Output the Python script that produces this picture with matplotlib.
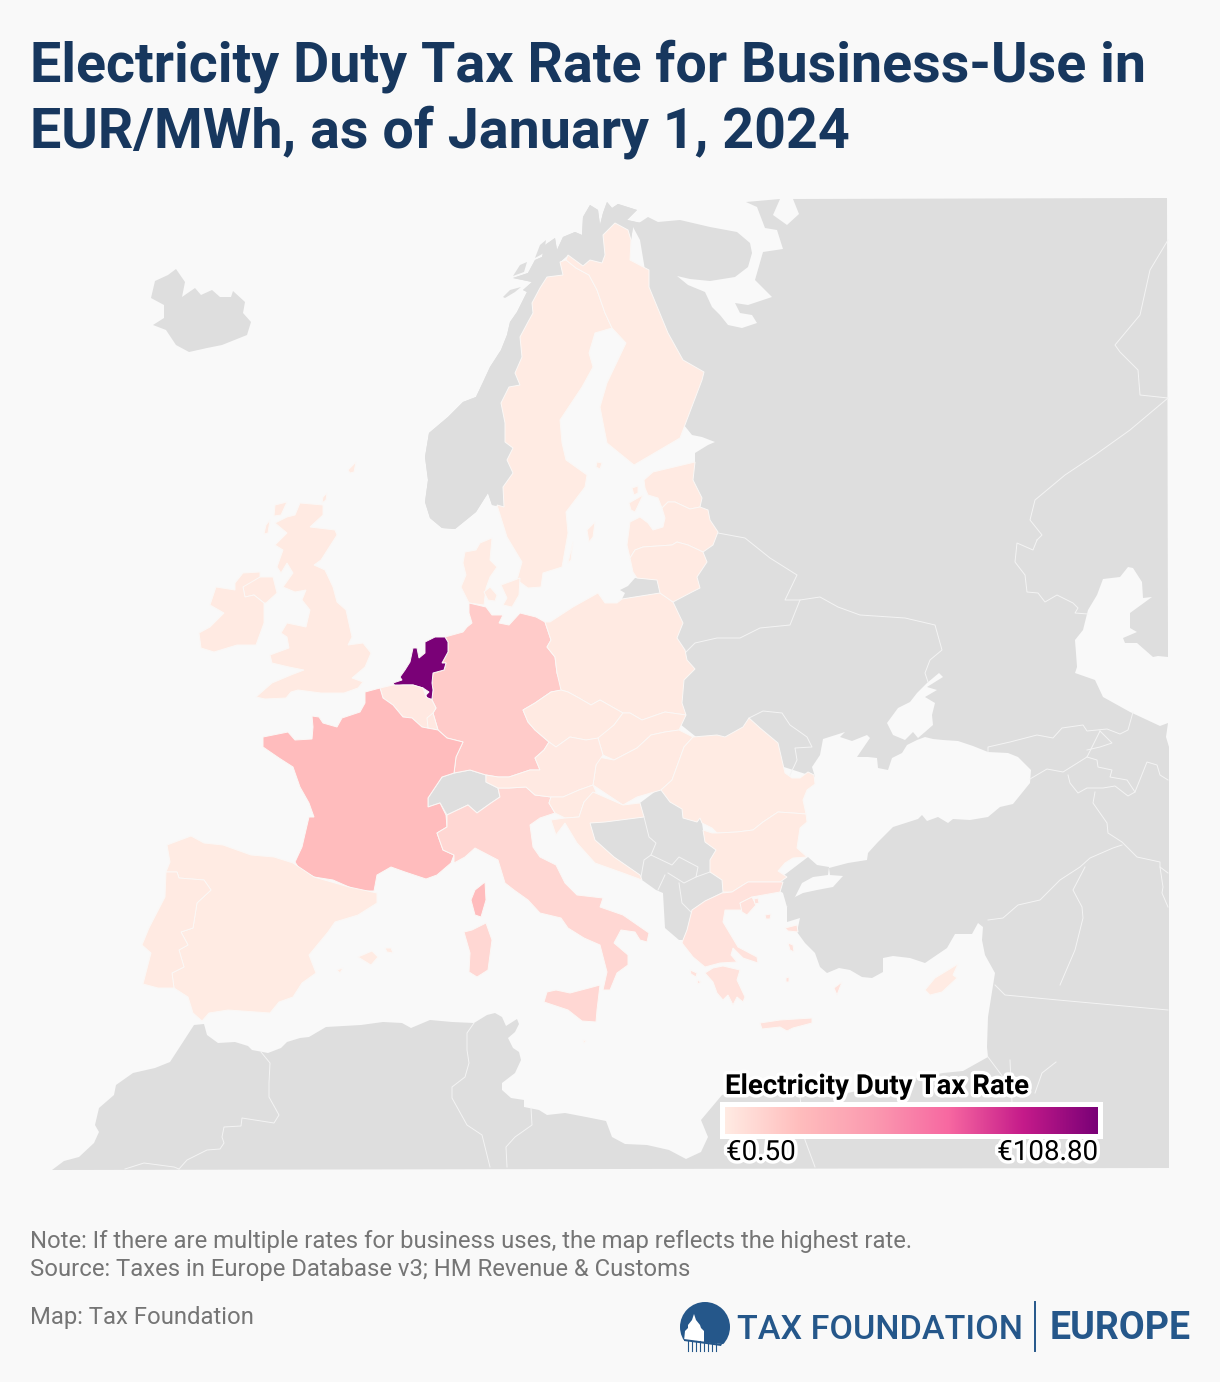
import numpy as np
import matplotlib
matplotlib.use("Agg")
import matplotlib.pyplot as plt
from matplotlib.patches import Polygon, Circle, Rectangle
from matplotlib.colors import LinearSegmentedColormap, Normalize
import matplotlib.patheffects as pe

TITLE = ["Electricity Duty Tax Rate for Business-Use in", "EUR/MWh, as of January 1, 2024"]
NOTE = "Note: If there are multiple rates for business uses, the map reflects the highest rate."
SOURCE = "Source: Taxes in Europe Database v3; HM Revenue & Customs"
CREDIT = "Map: Tax Foundation"
LEGEND_TITLE = "Electricity Duty Tax Rate"
RATE_MIN = 0.50
RATE_MAX = 108.80

# Duty rates, EUR/MWh
RATES = {"Netherlands": 108.8, "France": 22.5, "Germany": 15.4, "Italy": 10.0, "Greece": 5.0,
         "Sweden": 0.6, "Finland": 0.6, "Norway": None, "Denmark": 0.6, "UK": 1.0, "Ireland": 1.0,
         "Spain": 0.6, "Portugal": 1.0, "Belgium": 1.9, "Poland": 1.2, "Czechia": 1.2,
         "Slovakia": 1.0, "Hungary": 1.0, "Austria": 1.5, "Slovenia": 1.0, "Croatia": 1.0,
         "Romania": 0.6, "Bulgaria": 1.0, "Estonia": 1.0, "Latvia": 1.0, "Lithuania": 1.0, "Cyprus": 0.5}

# Country outlines on the map's own grid
EURASIA_AFRICA = [(633,227),(648,217),(658,222),(680,220),(710,227),(737,232),(750,243),(752,253),(748,267),(735,277),
 (710,281),(690,279),(677,276),(688,285),(705,292),(712,307),(720,315),(728,325),(742,328),(757,323),(752,315),(740,313),
 (735,303),(748,305),(772,297),(755,280),(763,252),(783,249),(777,230),(765,228),(757,207),(746,202),(780,199),(773,215),
 (787,225),(799,214),(793,199),(1167,198),(1168,657),(1158,656),(1153,657),(1137,643),(1125,643),(1123,638),(1137,632),
 (1130,628),(1130,613),(1152,597),(1143,598),(1142,582),(1133,568),(1128,567),(1120,577),(1103,579),(1097,595),(1088,610),
 (1083,630),(1075,640),(1077,667),(1075,673),(1095,680),(1103,697),(1130,712),(1160,726),(1168,723),(1166,737),(1169,747),
 (1169,1168),(52,1170),(64,1161),(79,1157),(94,1143),(99,1132),(95,1125),(99,1108),(114,1095),(116,1085),(133,1073),
 (155,1068),(170,1062),(183,1042),(194,1025),(204,1024),(207,1035),(218,1043),(235,1042),(248,1046),(252,1050),(268,1053),
 (281,1048),(287,1042),(300,1038),(309,1037),(326,1027),(361,1025),(383,1022),(402,1023),(411,1028),(430,1020),(452,1022),
 (474,1023),(487,1015),(495,1013),(502,1017),(506,1026),(517,1019),(519,1024),(515,1032),(508,1038),(513,1048),(519,1052),
 (521,1060),(515,1073),(502,1083),(502,1090),(511,1098),(524,1100),(524,1107),(539,1110),(547,1115),(565,1113),(586,1117),
 (606,1121),(612,1137),(625,1144),(647,1145),(669,1150),(686,1159),(701,1152),(708,1137),(701,1120),(722,1095),(745,1088),
 (790,1095),(830,1097),(870,1088),(905,1080),(943,1073),(963,1071),(988,1057),(987,1047),(988,1017),(995,973),(985,955),
 (982,940),(983,927),(978,923),(972,934),(955,934),(947,948),(925,963),(910,958),(893,956),(883,958),(883,972),(872,978),
 (862,977),(850,970),(839,968),(827,973),(820,967),(815,953),(805,943),(797,932),(800,918),(787,922),(787,907),(793,898),
 (803,893),(817,890),(833,887),(843,876),(830,875),(829,868),(848,863),(867,860),(868,853),(878,842),(893,827),(918,819),
 (922,815),(927,821),(938,817),(948,823),(953,819),(970,820),(988,817),(1000,807),(1013,804),(1030,783),(1031,770),
 (1018,757),(1008,753),(988,752),(973,746),(958,741),(943,740),(933,739),(925,737),(917,740),(907,745),(902,753),(892,758),
 (888,770),(878,768),(877,758),(868,757),(857,757),(870,738),(867,735),(852,741),(840,737),(845,732),(823,739),(820,755),
 (812,767),(815,777),(700,740),(650,700),(660,620),(680,540),(693,470),(695,462),(695,453),(708,445),(715,442),(702,437),
 (692,435),(680,420),(650,300),(640,240)]
AZOV = [(943,677),(939,673),(927,683),(917,693),(910,702),(898,708),(887,723),(893,735),(905,740),(913,732),(918,738),
 (925,732),(933,725),(932,715),(935,703),(925,697),(937,690),(927,687)]
THRACE = [(787,873),(808,857),(817,865),(829,867),(828,875),(813,877),(802,883),(795,897),(787,907),(783,893),(770,885)]
ICELAND = [(151,298),(155,281),(168,275),(176,269),(185,282),(182,297),(195,288),(201,295),(212,290),(220,297),(231,297),
 (233,291),(245,302),(243,313),(251,322),(247,335),(222,345),(207,348),(189,352),(176,345),(166,330),(153,325),(164,318),(164,305)]
NORWAY = [(442,528),(455,529),(476,512),(488,493),(492,505),(504,507),(503,487),(513,473),(507,460),(513,448),(505,442),
 (505,423),(501,403),(509,387),(520,385),(515,373),(522,357),(520,337),(528,322),(533,313),(532,303),(540,288),(547,277),
 (563,275),(560,262),(568,255),(583,266),(590,260),(602,263),(605,255),(603,235),(615,223),(628,230),(631,240),(633,227),
 (641,223),(627,220),(637,210),(618,204),(612,208),(607,202),(603,213),(600,225),(598,210),(590,205),(583,217),(582,235),
 (575,232),(563,237),(557,250),(555,238),(545,245),(542,257),(535,260),(528,273),(513,278),(532,282),(523,290),(527,292),
 (517,312),(510,322),(507,335),(503,345),(501,350),(490,367),(484,380),(476,397),(463,402),(448,417),(429,433),(425,457),
 (428,480),(425,502),(430,518)]
LOFOTEN = [(503,297),(510,290),(521,287),(515,292),(505,298)]
VESTERALEN = [(513,276),(520,265),(527,262),(524,272)]
SENJA = [(535,258),(540,245),(546,240),(544,253)]
SWEDEN = [(566,260),(560,262),(563,275),(547,277),(540,288),(532,303),(533,313),(528,322),(520,337),(522,357),(515,373),
 (520,385),(509,387),(501,403),(505,423),(505,442),(513,448),(507,460),(513,473),(503,487),(504,507),(497,505),(507,537),
 (522,562),(517,580),(528,588),(541,587),(543,573),(562,567),(568,533),(566,512),(585,487),(587,475),(566,460),(562,443),
 (560,420),(582,387),(593,367),(589,353),(595,333),(612,328),(605,313),(597,290),(589,275),(576,268)]
FINLAND = [(612,328),(626,343),(607,383),(600,407),(607,443),(634,465),(680,438),(702,380),(704,372),(683,360),(668,333),
 (649,287),(649,270),(630,260),(631,240),(628,230),(615,223),(603,235),(605,255),(602,263),(590,260),(583,266),(568,255),
 (566,260),(576,268),(589,275),(597,290),(605,313)]
GOTLAND = [(587,530),(595,522),(593,537),(589,542)]
OLAND = [(568,563),(573,542),(571,560)]
ALAND = [(597,462),(602,463),(600,469),(596,467)]
DENMARK = [(492,538),(480,543),(476,550),(465,552),(463,563),(466,575),(461,587),(469,603),(484,605),(486,588),(490,577),
 (497,567),(490,560)]
FUNEN = [(484,592),(490,587),(497,595),(495,601),(488,600)]
ZEALAND = [(501,585),(512,581),(520,578),(519,595),(512,607),(503,605),(507,598)]
FAROE = [(348,470),(356,462),(354,472),(350,473)]
GERMANY = [(469,603),(486,607),(492,615),(503,615),(499,623),(509,625),(520,613),(536,617),(545,622),(551,640),(547,647),
 (555,657),(557,673),(562,687),(563,690),(551,692),(535,703),(523,710),(528,722),(535,730),(549,742),(544,750),(535,758),
 (540,770),(530,770),(509,777),(498,777),(486,775),(470,770),(454,773),(456,757),(463,742),(447,738),(438,730),(433,713),
 (436,708),(432,700),(433,690),(432,683),(433,673),(444,670),(446,663),(442,663),(448,652),(448,642),(445,637),(463,632),(467,627),(472,623),(469,613)]
NETHERLANDS = [(425,642),(435,637),(445,637),(448,642),(448,652),(442,663),(446,663),(444,670),(433,673),(432,683),(433,690),
 (432,699),(427,699),(426,695),(429,692),(423,688),(413,685),(403,685),(395,686),(393,683),(402,680),(400,677),(405,670),
 (410,662),(413,648),(417,648),(419,658),(425,653),(425,648)]
BELGIUM = [(380,688),(393,685),(413,685),(423,688),(426,697),(432,700),(436,708),(433,713),(438,730),(428,728),(422,727),
 (412,718),(403,717),(393,705),(383,698)]
LUX_BORDER = [(433,713),(427,718),(428,728)]
FRANCE = [(365,692),(380,688),(383,698),(393,705),(403,717),(412,718),(422,727),(438,730),(447,738),(463,742),(456,757),(454,773),
 (442,777),(428,798),(428,807),(440,803),(446,815),(447,827),(437,833),(443,850),(454,855),(451,863),(437,875),(426,879),
 (405,872),(391,867),(377,875),(374,891),(358,891),(349,887),(333,880),(314,877),(300,870),(295,862),(302,847),(309,817),
 (314,817),(309,803),(300,787),(293,767),(279,758),(263,747),(263,737),(288,732),(295,740),(312,739),(313,727),(312,716),
 (319,717),(323,723),(337,727),(342,718),(360,712),(365,703)]
CORSICA = [(485,882),(486,900),(481,917),(475,915),(471,900),(475,890)]
SWITZERLAND = [(454,773),(470,770),(486,775),(486,782),(498,788),(500,797),(491,803),(477,813),(468,805),(447,815),(440,803),
 (428,807),(428,798),(442,777)]
ITALY = [(447,815),(468,805),(477,813),(491,803),(500,797),(498,788),(509,788),(526,787),(535,795),(551,797),(549,803),(555,813),
 (540,818),(530,825),(533,847),(540,857),(556,865),(565,883),(577,895),(603,898),(600,907),(623,915),(649,933),(647,942),
 (640,940),(635,932),(621,930),(614,943),(628,955),(628,965),(617,973),(610,990),(603,990),(607,972),(600,945),(584,938),
 (568,928),(561,918),(540,913),(528,900),(514,890),(505,883),(498,860),(475,848),(465,857),(454,863),(454,855),(443,850),
 (437,833),(447,827)]
SICILY = [(600,985),(597,1010),(596,1022),(582,1021),(568,1010),(544,1002),(547,992),(556,990),(570,993),(589,988)]
SARDINIA = [(472,930),(486,923),(492,940),(488,970),(477,977),(469,972),(470,953),(464,932)]
SPAIN = [(167,845),(191,836),(204,843),(223,845),(251,855),(274,857),(293,863),(314,877),(349,887),(377,893),(377,903),(358,915),
 (335,922),(328,932),(309,955),(316,973),(302,983),(293,997),(279,1002),(270,1013),(228,1010),(209,1013),(202,1021),(193,1013),
 (188,997),(174,988),(172,973),(184,967),(179,950),(188,945),(181,932),(193,928),(197,903),(211,890),(204,880),(179,878),
 (177,872),(166,872),(170,862)]
PORTUGAL = [(166,872),(177,872),(179,878),(204,880),(211,890),(197,903),(193,928),(181,932),(188,945),(179,950),(184,967),(172,973),
 (174,988),(158,988),(143,984),(151,953),(142,945),(149,928),(165,897)]
MALLORCA = [(358,957),(372,951),(378,957),(371,965)]
MENORCA = [(385,948),(391,948),(393,953),(387,952)]
IBIZA = [(337,970),(343,968),(340,973)]
UK = [(300,503),(323,505),(323,515),(310,527),(335,530),(337,535),(321,560),(314,565),(325,570),(333,587),(337,602),(346,610),
 (352,637),(348,645),(363,643),(371,653),(365,667),(352,678),(363,682),(358,688),(344,693),(321,693),(298,690),(291,692),
 (286,698),(265,699),(256,697),(272,683),(291,675),(304,670),(289,667),(272,663),(270,655),(289,648),(287,637),(281,633),
 (287,623),(306,627),(310,610),(302,600),(306,590),(295,592),(283,587),(293,573),(287,563),(281,573),(277,567),(283,550),
 (275,545),(287,533),(275,523),(287,517),(295,515)]
HEBRIDES = [(275,505),(287,502),(281,515),(274,516)]
LEWIS2 = [(266,525),(270,520),(268,533),(264,534)]
SHETLAND = [(323,497),(327,493),(326,500),(322,503)]
IRELAND = [(199,633),(210,627),(224,613),(210,605),(216,587),(235,590),(235,583),(243,573),(260,572),(260,577),(243,587),(245,597),
 (254,595),(264,603),(264,623),(256,645),(237,645),(214,652),(201,648)]
N_IRELAND = [(243,587),(250,578),(260,577),(273,577),(277,593),(266,603),(264,603),(254,595),(245,597)]
POLAND = [(550,622),(573,607),(598,593),(605,603),(617,603),(622,599),(660,593),(673,602),(683,623),(677,638),(685,650),(687,660),
 (695,669),(684,680),(682,703),(686,715),(665,712),(642,720),(630,713),(623,713),(600,700),(591,705),(579,698),(568,692),(561,690),
 (557,673),(555,657),(547,647),(551,640),(545,622)]
CZECHIA = [(561,690),(568,692),(579,698),(591,705),(600,700),(623,713),(614,725),(600,738),(586,740),(570,737),(556,747),(549,742),
 (535,730),(528,722),(523,710),(535,703),(551,692)]
SLOVAKIA = [(623,713),(630,713),(642,720),(665,712),(686,715),(679,730),(665,732),(651,735),(637,748),(614,760),(603,755),(598,738),(614,725)]
HUNGARY = [(598,757),(614,760),(637,748),(651,735),(665,732),(679,730),(693,737),(684,747),(672,780),(661,790),(637,797),(623,805),
 (593,785),(596,765)]
AUSTRIA = [(549,742),(556,747),(570,737),(586,740),(598,738),(603,755),(596,765),(593,785),(579,790),(563,797),(551,797),(535,795),
 (526,787),(509,788),(498,788),(486,782),(486,775),(498,777),(509,777),(530,770),(540,770),(535,758),(544,750)]
SLOVENIA = [(551,797),(563,797),(579,790),(593,785),(596,792),(584,802),(579,817),(565,818),(555,813),(549,803)]
CROATIA = [(593,792),(623,805),(640,803),(644,817),(605,822),(590,823),(595,840),(614,857),(640,875),(642,880),(623,873),(595,863),
 (577,843),(565,823),(556,835),(551,820),(565,818),(579,817),(584,802)]
BALKANS = [(640,803),(656,791),(661,790),(670,802),(682,809),(683,818),(697,822),(700,818),(702,823),(703,830),(705,842),(716,850),
 (710,860),(710,872),(722,880),(723,892),(705,901),(692,910),(687,930),(683,940),(679,940),(665,928),(663,893),(656,890),(642,880),
 (640,875),(614,857),(595,840),(590,823),(605,822),(644,817)]
ROMANIA = [(693,737),(717,735),(725,737),(743,727),(749,718),(760,728),(778,743),(785,773),(792,778),(800,778),(808,772),(814,775),
 (815,784),(807,790),(803,800),(806,814),(793,813),(778,812),(763,822),(753,830),(737,832),(717,833),(712,828),(702,823),(700,818),
 (697,822),(683,818),(682,809),(670,802),(661,790),(672,780),(684,747)]
BULGARIA = [(806,814),(807,822),(800,828),(797,848),(807,857),(793,858),(785,863),(778,871),(787,877),(780,882),(748,882),(743,885),
 (732,892),(723,892),(722,880),(710,872),(710,860),(716,850),(705,842),(703,830),(712,833),(717,833),(737,832),(753,830),(763,822),
 (778,812),(793,813)]
GREECE = [(722,893),(732,892),(743,885),(748,882),(783,882),(780,892),(752,897),(740,903),(743,910),(725,910),(723,922),(732,937),
 (738,947),(757,957),(758,963),(743,958),(733,948),(731,955),(737,962),(720,963),(705,967),(693,957),(682,943),(683,940),(687,930),
 (692,910),(705,901)]
CHALKIDIKI = [(740,903),(752,897),(756,905),(747,915),(742,912)]
PELOPONNESE = [(705,973),(713,968),(723,966),(740,970),(737,980),(745,997),(743,1002),(737,997),(733,1005),(728,995),(723,1000),
 (717,993),(713,982)]
CRETE = [(760,1023),(780,1020),(812,1018),(812,1023),(793,1028),(787,1031),(780,1027),(762,1029)]
RHODES = [(842,982),(837,995),(834,988)]
LESBOS = [(785,928),(797,925),(798,932),(788,931)]
CHIOS = [(788,943),(793,945),(794,952),(790,950)]
THASOS = [(754,899),(758,898),(759,903),(755,904)]
LEMNOS = [(765,915),(771,914),(770,919),(766,919)]
NAXOS = [(786,978),(789,977),(789,982),(786,982)]
CORFU = [(690,970),(697,973),(696,977),(691,974)]
ZAKYNTHOS = [(697,980),(701,982),(698,984)]
CYPRUS = [(958,964),(953,975),(957,978),(942,992),(930,995),(925,990),(935,978)]
ESTONIA = [(644,480),(653,472),(695,462),(693,480),(702,498),(700,507),(690,509),(675,502),(668,502),(662,508),(658,498),(648,495),(645,488)]
SAAREMAA = [(629,503),(643,495),(635,512),(631,510)]
HIIUMAA = [(632,488),(638,486),(638,493),(634,495)]
LATVIA = [(662,508),(668,502),(675,502),(690,509),(700,507),(708,510),(710,520),(718,532),(713,545),(703,552),(688,545),(677,542),
 (672,545),(643,547),(635,550),(630,558),(627,545),(630,522),(640,517),(648,523),(653,530),(663,527),(665,518)]
LITHUANIA = [(630,558),(635,550),(643,547),(672,545),(677,542),(688,545),(703,552),(707,562),(697,577),(700,588),(692,592),(673,602),
 (660,593),(657,580),(637,578),(633,572)]
KALININGRAD = [(620,590),(628,586),(635,578),(657,580),(660,593),(622,599),(625,593)]
MALTA = [(583,1040),(586,1041),(584,1043)]

# Borders between the non-EU countries
BORDERS = [
 [(644,817),(649,837),(656,843),(651,855),(644,860),(641,877)],
 [(651,855),(672,865),(679,857),(698,867),(696,877),(684,883),(668,873)],
 [(665,875),(658,890)], [(679,883),(682,903),(691,912)], [(696,877),(710,872)],
 [(685,653),(695,643),(717,638),(740,638),(760,628),(790,625),(800,600),(820,597),(838,607),(860,615),(905,618),(935,625),(942,650),(930,660),(925,673),(928,682)],
 [(718,533),(745,538),(770,558),(797,575),(785,600),(800,600)],
 [(749,718),(763,711),(782,713),(790,725),(800,732),(807,737),(812,747),(795,748),(797,760),(790,775)],
 [(988,752),(988,747),(1010,742),(1037,735),(1053,738),(1062,728),(1083,725),(1087,731),(1107,729),(1120,734),(1128,730),(1133,712)],
 [(1030,779),(1047,769),(1063,772),(1087,757),(1100,731)],
 [(1087,750),(1100,747),(1112,743),(1100,731)],
 [(1087,757),(1097,760),(1098,767),(1112,770),(1110,777),(1127,780),(1135,792),(1128,796),(1115,786),(1103,788),(1087,788),(1078,793),(1070,783),(1068,775)],
 [(1095,792),(1093,803),(1107,823),(1108,833),(1122,842),(1137,857),(1160,862),(1160,867),(1168,873)],
 [(1135,792),(1147,762),(1157,765),(1160,775),(1168,780)],
 [(1122,845),(1113,848),(1090,858),(1080,867),(1060,880),(1040,900),(1018,905),(1003,918),(988,920)],
 [(1085,867),(1073,890),(1082,907),(1083,918),(1075,950),(1060,985)],
 [(1160,867),(1163,887),(1162,893),(1168,907)],
 [(995,985),(1005,995),(1058,1000),(1168,1010)],
 [(988,1057),(1003,1077)], [(1056,1062),(1042,1073),(1035,1093)], [(1010,1060),(1012,1103)],
 [(800,1097),(805,1140),(815,1167)],
 [(1037,540),(1033,550),(1017,543),(1015,562),(1025,575),(1027,592),(1038,593),(1045,602),(1057,595),(1073,603),(1078,608),(1075,613),(1088,614)],
 [(1168,398),(1130,430),(1095,455),(1065,475),(1035,500),(1030,520),(1042,535),(1037,540)],
 [(1168,240),(1150,270),(1140,315),(1115,345),(1120,352),(1138,370),(1140,395),(1168,398)],
 [(261,1052),(270,1063),(269,1083),(269,1097),(279,1115),(274,1123),(242,1118),(241,1126),(224,1127),(222,1137),(224,1143),(220,1149),(207,1150),(187,1160),(179,1169)],
 [(125,1169),(144,1163),(174,1167),(179,1169)],
 [(474,1023),(467,1033),(467,1050),(469,1063),(465,1077),(452,1087),(452,1098),(467,1125),(482,1135),(490,1167)],
 [(531,1108),(532,1125),(515,1137),(506,1147),(507,1167)],
]

GRAY_SHAPES = [EURASIA_AFRICA, THRACE, ICELAND, NORWAY, LOFOTEN, VESTERALEN, SENJA, SWITZERLAND, BALKANS, KALININGRAD]
COUNTRY_SHAPES = {
 "Sweden": [SWEDEN, GOTLAND, OLAND], "Finland": [FINLAND, ALAND], "Denmark": [DENMARK, FUNEN, ZEALAND, FAROE],
 "Germany": [GERMANY], "Netherlands": [NETHERLANDS], "Belgium": [BELGIUM], "France": [FRANCE, CORSICA],
 "Italy": [ITALY, SICILY, SARDINIA], "Spain": [SPAIN, MALLORCA, MENORCA, IBIZA], "Portugal": [PORTUGAL],
 "UK": [UK, HEBRIDES, LEWIS2, SHETLAND, N_IRELAND], "Ireland": [IRELAND], "Poland": [POLAND], "Czechia": [CZECHIA],
 "Slovakia": [SLOVAKIA], "Hungary": [HUNGARY], "Austria": [AUSTRIA], "Slovenia": [SLOVENIA], "Croatia": [CROATIA],
 "Romania": [ROMANIA], "Bulgaria": [BULGARIA],
 "Greece": [GREECE, CHALKIDIKI, PELOPONNESE, CRETE, RHODES, LESBOS, CHIOS, THASOS, LEMNOS, NAXOS, CORFU, ZAKYNTHOS],
 "Estonia": [ESTONIA, SAAREMAA, HIIUMAA], "Latvia": [LATVIA], "Lithuania": [LITHUANIA], "Cyprus": [CYPRUS, MALTA],
}

BG = "#f9f9f9"
GRAY = "#dedede"
NAVY = "#17375e"
LOGO = "#25578a"
cmap = LinearSegmentedColormap.from_list("duty", ["#ffebe3", "#ffbdbd", "#fb9ab0", "#f768a1", "#c51b8a", "#7a0177"])
norm = Normalize(RATE_MIN, RATE_MAX)

plt.rcParams["font.family"] = ["Roboto", "DejaVu Sans"]
fig = plt.figure(figsize=(12.2, 13.82), dpi=100, facecolor=BG)
ax = fig.add_axes([0, 0, 1, 1])
ax.set_xlim(0, 1220)
ax.set_ylim(1382, 0)
ax.axis("off")

for shape in GRAY_SHAPES:
    ax.add_patch(Polygon(shape, closed=True, fc=GRAY, ec="none", zorder=1))
ax.add_patch(Polygon(AZOV, closed=True, fc=BG, ec="none", zorder=1.5))
for line in BORDERS:
    xs, ys = zip(*line)
    ax.plot(xs, ys, color="#f4f4f4", lw=0.7, zorder=2, solid_joinstyle="round")
ax.add_patch(Polygon(NORWAY, closed=True, fc=GRAY, ec="none", zorder=2))
ax.add_patch(Polygon(SWITZERLAND, closed=True, fc=GRAY, ec="#f4f4f4", lw=0.8, zorder=2))
for name, shapes in COUNTRY_SHAPES.items():
    colour = cmap(norm(RATES[name]))
    for shape in shapes:
        ax.add_patch(Polygon(shape, closed=True, fc=colour, ec="#fbf8f6", lw=0.7, zorder=3))
xs, ys = zip(*LUX_BORDER)
ax.plot(xs, ys, color="#fbf8f6", lw=0.7, zorder=4)

# Titles and notes
for text, y in zip(TITLE, [81.5, 147.5]):
    ax.text(30, y, text, fontsize=40.1, fontweight="bold", color=NAVY, va="baseline", ha="left")
ax.text(30, 1248, NOTE, fontsize=17.2, color="#757575", va="baseline")
ax.text(30, 1276, SOURCE, fontsize=17.2, color="#757575", va="baseline")
ax.text(30, 1324, CREDIT, fontsize=17.2, color="#757575", va="baseline")

# Legend
halo = [pe.withStroke(linewidth=5, foreground="white")]
ax.text(725, 1094, LEGEND_TITLE, fontsize=19.9, fontweight="bold", color="black", va="baseline",
        path_effects=halo, zorder=6)
ax.add_patch(Rectangle((720, 1102), 383, 37, fc="white", ec="none", zorder=5))
lax = fig.add_axes([725 / 1220, 1 - 1134 / 1382, 373 / 1220, 27 / 1382], zorder=6)
lax.imshow(np.linspace(RATE_MIN, RATE_MAX, 256)[None, :], cmap=cmap, norm=norm, aspect="auto")
lax.axis("off")
ax.text(726, 1160, f"€{RATE_MIN:.2f}", fontsize=20, color="black", va="baseline", ha="left",
        path_effects=halo, zorder=6)
ax.text(1098, 1160, f"€{RATE_MAX:.2f}", fontsize=20, color="black", va="baseline", ha="right",
        path_effects=halo, zorder=6)

# Logo
ax.add_patch(Circle((705, 1327), 25, fc=LOGO, ec="none", zorder=5))
ax.add_patch(Polygon([(684, 1341), (685, 1331), (688, 1328), (688, 1325), (692, 1320), (694, 1314), (696, 1320),
                      (700, 1325), (701, 1328), (704, 1331), (704, 1344)],
                     closed=True, fc="white", ec="none", zorder=6))
ax.add_patch(Polygon([(680, 1340), (732, 1345), (732, 1356), (680, 1356)], closed=True, fc=BG, ec="none", zorder=6))
ax.add_patch(Polygon([(684, 1339), (722, 1344), (721, 1346), (684, 1341)], closed=True, fc=LOGO, ec="none", zorder=7))
for cx in (688, 692, 696, 700, 704, 708, 712, 716):
    ax.plot([cx, cx], [1341, 1351], color=LOGO, lw=0.8, zorder=7)
ax.text(737, 1339, "TAX FOUNDATION", fontsize=24.6, color=LOGO, va="baseline", ha="left", fontweight="medium", zorder=6)
ax.plot([1035, 1035], [1302, 1351], color=LOGO, lw=1.4, zorder=6)
ax.text(1050, 1339, "EUROPE", fontsize=27, color=LOGO, va="baseline", ha="left", fontweight="bold", zorder=6)

fig.savefig("out.png", dpi=100, facecolor=BG)
